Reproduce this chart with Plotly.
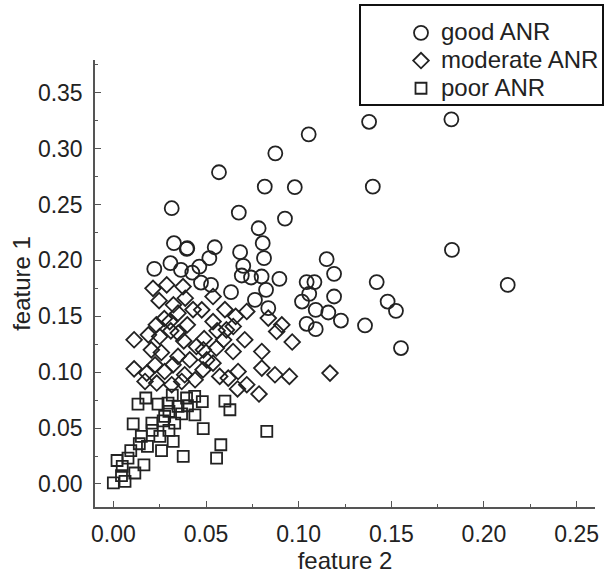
import plotly.graph_objects as go

# ---- data: (feature 2, feature 1) ----
good_x = [0.138, 0.1824, 0.1054, 0.0874, 0.0570, 0.0817, 0.0979, 0.140, 0.0315, 0.0677,
          0.0926, 0.0784, 0.0806, 0.0813, 0.0684, 0.0399, 0.0547, 0.0518, 0.1151, 0.1191,
          0.0426, 0.0473, 0.0701, 0.0693, 0.0743, 0.0800, 0.0896, 0.0635, 0.0824, 0.0764,
          0.1043, 0.1085, 0.1057, 0.1191, 0.1018, 0.1421, 0.1827, 0.2128, 0.1092, 0.1160,
          0.1228, 0.1043, 0.1092, 0.1358, 0.1480, 0.1525, 0.1552, 0.0327, 0.0396, 0.0221,
          0.0308, 0.0365, 0.0464, 0.0527, 0.0836]
good_y = [0.324, 0.3262, 0.3128, 0.2958, 0.2789, 0.266, 0.2655, 0.266, 0.2467, 0.2428,
          0.2374, 0.2288, 0.2154, 0.2020, 0.2074, 0.2109, 0.2118, 0.2020, 0.2011, 0.1880,
          0.1891, 0.1802, 0.1951, 0.1865, 0.1847, 0.1856, 0.1835, 0.1716, 0.1737, 0.1647,
          0.1806, 0.1806, 0.1701, 0.1677, 0.1632, 0.1806, 0.2094, 0.1781, 0.1558, 0.1534,
          0.1462, 0.1433, 0.1385, 0.1418, 0.1632, 0.1549, 0.1216, 0.2154, 0.2103, 0.1924,
          0.1975, 0.1915, 0.1945, 0.1781, 0.1573]

moderate_x = [0.0214, 0.0288, 0.0376, 0.0247, 0.0388, 0.0538, 0.0324, 0.0477, 0.0602, 0.0720,
              0.0836, 0.0349, 0.0909, 0.0881, 0.0965, 0.0399, 0.0538, 0.0610, 0.0232, 0.0304,
              0.0647, 0.0112, 0.0189, 0.0250, 0.0310, 0.0380, 0.0490, 0.0709, 0.0448, 0.0556,
              0.0646, 0.0801, 0.0205, 0.0259, 0.0349, 0.0412, 0.0486, 0.0112, 0.0180, 0.0277,
              0.0322, 0.0385, 0.0484, 0.0574, 0.0538, 0.0673, 0.0225, 0.0504, 0.0801, 0.0872,
              0.0950, 0.1169, 0.0620, 0.0670, 0.0720, 0.0786, 0.0171, 0.0234, 0.0315, 0.0369,
              0.0441, 0.0660, 0.0560, 0.0430, 0.0275, 0.0595, 0.0350]
moderate_y = [0.1750, 0.1781, 0.1766, 0.1640, 0.1662, 0.1677, 0.1603, 0.1558, 0.1560, 0.1543,
              0.1484, 0.1528, 0.1424, 0.1364, 0.1270, 0.1424, 0.1453, 0.1379, 0.1424, 0.1453,
              0.1409, 0.1290, 0.1334, 0.1319, 0.1370, 0.1280, 0.1300, 0.1290, 0.1230, 0.1216,
              0.1185, 0.1185, 0.1200, 0.1176, 0.1141, 0.1111, 0.1200, 0.1030, 0.0992, 0.1006,
              0.1066, 0.0977, 0.1022, 0.0962, 0.1081, 0.1006, 0.1066, 0.1110, 0.1037, 0.0977,
              0.0962, 0.0992, 0.0947, 0.0850, 0.0888, 0.0805, 0.0917, 0.0903, 0.0888, 0.0917,
              0.0932, 0.1500, 0.1370, 0.1560, 0.1480, 0.1290, 0.1350]

poor_x = [0.0133, 0.0175, 0.0241, 0.0295, 0.0300, 0.0318, 0.0395, 0.0439, 0.0480, 0.0602,
          0.0629, 0.0349, 0.0368, 0.0440, 0.0277, 0.0208, 0.0107, 0.0269, 0.0331, 0.0485,
          0.0251, 0.0323, 0.0184, 0.0094, 0.0260, 0.0377, 0.0580, 0.0557, 0.0828, 0.0151,
          0.0079, 0.0165, 0.0048, 0.0000, 0.0044, 0.0116, 0.0063, 0.0020, 0.0210, 0.0400,
          0.0140, 0.0300]
poor_y = [0.0715, 0.0769, 0.0715, 0.0724, 0.0650, 0.0794, 0.0769, 0.0783, 0.0736, 0.0742,
          0.0664, 0.0694, 0.0627, 0.0619, 0.0604, 0.0545, 0.0538, 0.0565, 0.0545, 0.0496,
          0.0425, 0.0381, 0.0336, 0.0299, 0.0299, 0.0247, 0.0351, 0.0232, 0.0470, 0.0425,
          0.0232, 0.0170, 0.0157, 0.0009, 0.0075, 0.0098, 0.0023, 0.0210, 0.0480, 0.0700,
          0.0360, 0.0480]

names = ["good ANR", "moderate ANR", "poor ANR"]

INK = "#222222"
FONT = "Liberation Sans, Arial, sans-serif"

def label(s):
    return '<span style="font-size:24px">' + s + '</span>'

fig = go.Figure()
fig.add_trace(go.Scatter(x=good_x, y=good_y, mode="markers", name=label(names[0]),
                         marker=dict(symbol="circle-open", size=14, color=INK,
                                     line=dict(width=1.8, color=INK))))
fig.add_trace(go.Scatter(x=moderate_x, y=moderate_y, mode="markers", name=label(names[1]),
                         marker=dict(symbol="diamond-open", size=12, color=INK,
                                     line=dict(width=1.8, color=INK))))
fig.add_trace(go.Scatter(x=poor_x, y=poor_y, mode="markers", name=label(names[2]),
                         marker=dict(symbol="square-open", size=11, color=INK,
                                     line=dict(width=1.8, color=INK))))

W, H = 606, 581
L, R, T, B = 95, 11, 60, 74
pw, ph = W - L - R, H - T - B

def px2paper_x(px):
    return (px - L) / pw

def px2paper_y(py):
    return (H - B - py) / ph

axis_common = dict(
    showline=True, linecolor="#555555", linewidth=1.5, mirror=False,
    showgrid=False, zeroline=False,
    ticks="inside", ticklen=6, tickwidth=1.3, tickcolor="#555555",
    tickfont=dict(family=FONT, size=23, color=INK),
    minor=dict(ticks="inside", ticklen=3, tickwidth=1.2, tickcolor="#555555", dtick=0.025),
    tickformat=".2f", dtick=0.05, tick0=0,
)

fig.update_layout(
    width=W, height=H,
    margin=dict(l=L, r=R, t=T, b=B, autoexpand=False),
    paper_bgcolor="white", plot_bgcolor="white",
    font=dict(family=FONT, color=INK),
    xaxis=dict(range=[-0.0099, 0.2599],
               title=dict(text="feature 2", font=dict(family=FONT, size=24, color=INK), standoff=6),
               ticklabelstandoff=6, **axis_common),
    yaxis=dict(range=[-0.0206, 0.3793],
               title=dict(text="feature 1", font=dict(family=FONT, size=24, color=INK), standoff=0),
               ticklabelstandoff=6, **axis_common),
    showlegend=True,
    legend=dict(x=px2paper_x(401), y=px2paper_y(14), xanchor="left", yanchor="top",
                bgcolor="rgba(0,0,0,0)", borderwidth=0,
                font=dict(family=FONT, size=19, color=INK),
                itemwidth=30, tracegroupgap=0),
    shapes=[dict(type="rect", xref="paper", yref="paper",
                 x0=px2paper_x(360), x1=px2paper_x(603),
                 y0=px2paper_y(105), y1=px2paper_y(5),
                 line=dict(color="#111111", width=2), fillcolor="rgba(0,0,0,0)")],
)

fig.write_html("out.html")
